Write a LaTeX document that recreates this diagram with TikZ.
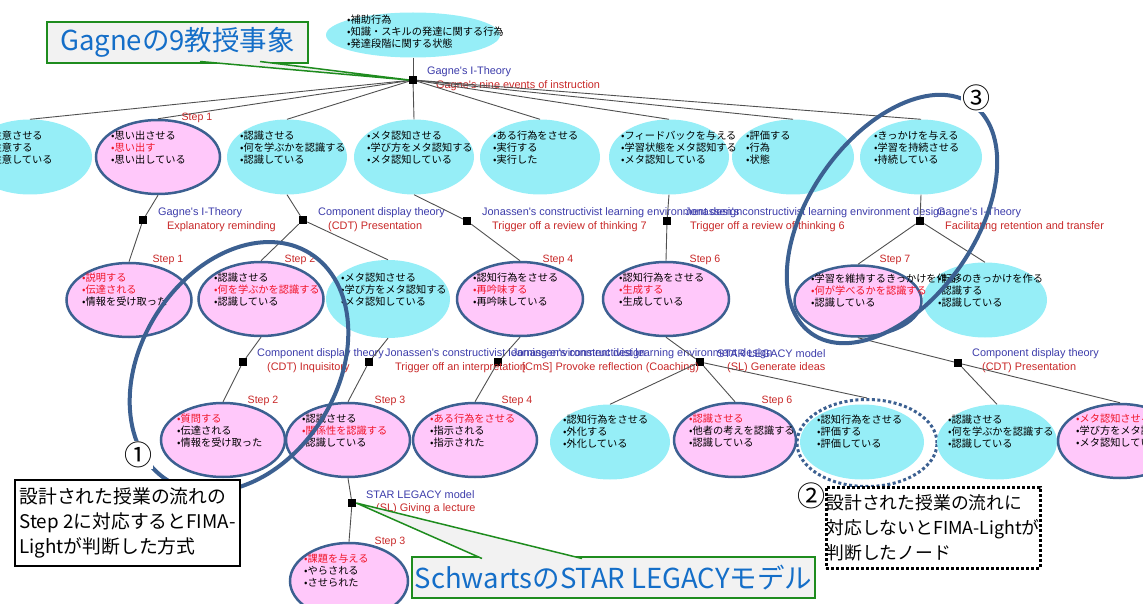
\documentclass[tikz,border=0pt]{standalone}
\usepackage{fontspec}
\setmainfont{Noto Sans CJK JP}
\newfontfamily\labelfont{Liberation Sans}
\usetikzlibrary{shapes.geometric}

\definecolor{cyanfill}{RGB}{150,238,247}
\definecolor{pinkfill}{RGB}{255,200,250}
\definecolor{ovalblue}{RGB}{60,96,145}
\definecolor{thyblue}{RGB}{60,60,170}
\definecolor{evtred}{RGB}{200,40,40}
\definecolor{hotred}{RGB}{240,20,40}
\definecolor{wiregray}{RGB}{80,80,80}
\definecolor{calloutgreen}{RGB}{30,140,30}
\definecolor{calloutblue}{RGB}{20,110,200}
\definecolor{calloutfill}{RGB}{242,242,242}

\newcommand\hot[1]{\textcolor{hotred}{#1}}

\tikzset{
  cyanell/.style={ellipse, fill=cyanfill, minimum width=124pt, minimum height=75pt, inner sep=0pt},
  pinkell/.style={ellipse, fill=pinkfill, draw=ovalblue, line width=2.5pt, minimum width=124pt, minimum height=74pt, inner sep=0pt},
  jn/.style={rectangle, fill=black, minimum size=8pt, inner sep=0pt},
  wire/.style={draw=wiregray, line width=0.9pt},
  body/.style={anchor=west, align=left, inner sep=0pt, font=\fontsize{10.2}{12}\selectfont},
  thy/.style={anchor=west, inner sep=0pt, text=thyblue, font=\labelfont\fontsize{10.9}{11}\selectfont},
  evt/.style={anchor=west, inner sep=0pt, text=evtred, font=\labelfont\fontsize{10.9}{11}\selectfont},
  stepl/.style={inner sep=0pt, text=evtred, font=\labelfont\fontsize{10.6}{11}\selectfont},
  bigoval/.style={draw=ovalblue, line width=4pt},
  circnum/.style={inner sep=1pt, font=\fontsize{28}{30}\selectfont},
  callout/.style={draw=calloutgreen, line width=2pt, fill=calloutfill, text=calloutblue, inner sep=0pt, font=\fontsize{27.5}{30}\selectfont},
  notebox/.style={draw=black, fill=white, line width=2.5pt, align=left, inner sep=0pt, font=\fontsize{18.8}{25}\selectfont}
}

\begin{document}
\begin{tikzpicture}[x=1pt,y=-1pt]
\useasboundingbox (0,0) rectangle (1143,604);
\clip (0,0) rectangle (1143,604);

% top
\node[cyanell, minimum width=174pt, minimum height=45pt] (root) at (413,35) {};
\node[body] (roott) at (347,32) {•補助行為\\•知識・スキルの発達に関する行為\\•発達段階に関する状態};
\node[jn] (j0) at (413,80) {};
\node[thy] (j0t) at (427,72) {Gagne's I-Theory};
\node[evt] (j0e) at (436,86) {Gagne's nine events of instruction};
\draw[wire] (root) -- (j0);

% nine events
\node[cyanell] (r1a) at (30,157) {};
\node[pinkell] (r1b) at (158,157) {};
\node[cyanell, minimum width=120pt] (r1c) at (287,157) {};
\node[cyanell, minimum width=120pt] (r1d) at (414,157) {};
\node[cyanell, minimum width=120pt] (r1e) at (540,157) {};
\node[cyanell, minimum width=120pt] (r1f) at (669,157) {};
\node[cyanell, minimum width=122pt] (r1g) at (793,157) {};
\node[cyanell, minimum width=122pt] (r1h) at (921,157) {};
\draw[wire] (j0) -- (r1a.north);
\draw[wire] (j0) -- (r1b.north);
\draw[wire] (j0) -- (r1c.north);
\draw[wire] (j0) -- (r1d.north);
\draw[wire] (j0) -- (r1e.north);
\draw[wire] (j0) -- (r1f.north);
\draw[wire] (j0) -- (r1g.north);
\draw[wire] (j0) -- (r1h.north);
\node[body] (r1at) at (-12,148) {•注意させる\\•注意する\\•注意している};
\node[body] (r1bt) at (111,148) {•思い出させる\\\hot{•思い出す}\\•思い出している};
\node[body] (r1ct) at (240,148) {•認識させる\\•何を学ぶかを認識する\\•認識している};
\node[body] (r1dt) at (367,148) {•メタ認知させる\\•学び方をメタ認知する\\•メタ認知している};
\node[body] (r1et) at (493,148) {•ある行為をさせる\\•実行する\\•実行した};
\node[body] (r1ft) at (621,148) {•フィードバックを与える\\•学習状態をメタ認知する\\•メタ認知している};
\node[body] (r1gt) at (746,148) {•評価する\\•行為\\•状態};
\node[body] (r1ht) at (874,148) {•きっかけを与える\\•学習を持続させる\\•持続している};
\node[stepl] (s1) at (197,118) {Step 1};

% second level
\node[jn] (ja) at (143,220) {};
\node[jn] (jb) at (303,220) {};
\node[jn] (jc) at (467,221) {};
\node[jn] (jd) at (667,221) {};
\node[jn] (je) at (920,221) {};
\node[thy] (jat) at (158,213) {Gagne's I-Theory};
\node[evt] (jae) at (167,227) {Explanatory reminding};
\node[thy] (jbt) at (318,213) {Component display theory};
\node[evt] (jbe) at (328,227) {(CDT) Presentation};
\node[thy] (jct) at (482,213) {Jonassen's constructivist learning environment design};
\node[evt] (jce) at (492,227) {Trigger off a review of thinking 7};
\node[thy] (jdt) at (685,213) {Jonassen's constructivist learning environment design};
\node[evt] (jde) at (690,227) {Trigger off a review of thinking 6};
\node[thy] (jet) at (937,213) {Gagne's I-Theory};
\node[evt] (jee) at (945,227) {Facilitating retention and transfer};
\draw[wire] (r1b.south) -- (ja);
\draw[wire] (r1c.south) -- (jb);
\draw[wire] (r1d.south) -- (jc);
\draw[wire] (r1f.south) -- (jd);
\draw[wire] (r1h.south) -- (je);

\node[pinkell, minimum width=125pt] (r2a) at (129,300) {};
\node[pinkell, minimum width=125pt] (r2b) at (261,299) {};
\node[cyanell, minimum height=78pt] (r2c) at (388,299) {};
\node[pinkell, minimum width=126pt] (r2d) at (520,299) {};
\node[pinkell, minimum width=126pt] (r2e) at (666,299) {};
\node[pinkell, minimum width=127pt, minimum height=71pt] (r2f) at (858,301) {};
\node[cyanell] (r2g) at (985,300) {};
\draw[wire] (ja) -- (r2a.north);
\draw[wire] (jb) -- (r2b.north);
\draw[wire] (jb) -- (r2c.north);
\draw[wire] (jc) -- (r2d.north);
\draw[wire] (jd) -- (r2e.north);
\draw[wire] (je) -- (r2f.north);
\draw[wire] (je) -- (r2g.north);
\node[body] (r2at) at (82,290) {\hot{•説明する}\\\hot{•伝達される}\\•情報を受け取った};
\node[body] (r2bt) at (214,290) {•認識させる\\\hot{•何を学ぶかを認識する}\\•認識している};
\node[body] (r2ct) at (341,290) {•メタ認知させる\\•学び方をメタ認知する\\•メタ認知している};
\node[body] (r2dt) at (473,290) {•認知行為をさせる\\\hot{•再吟味する}\\•再吟味している};
\node[body] (r2et) at (619,290) {•認知行為をさせる\\\hot{•生成する}\\•生成している};
\node[body] (r2ft) at (811,291) {•学習を維持するきっかけを作る\\\hot{•何が学べるかを認識する}\\•認識している};
\node[body] (r2gt) at (938,291) {•転移のきっかけを作る\\•認識する\\•認識している};
\node[stepl] (s2a) at (168,260) {Step 1};
\node[stepl] (s2b) at (300,260) {Step 2};
\node[stepl] (s2d) at (558,260) {Step 4};
\node[stepl] (s2e) at (705,260) {Step 6};
\node[stepl] (s2f) at (895,260) {Step 7};

% third level
\node[jn] (jf) at (243,362) {};
\node[jn] (jg) at (369,362) {};
\node[jn] (jh) at (498,362) {};
\node[jn] (ji) at (700,362) {};
\node[jn] (jj) at (958,363) {};
\node[thy] (jft) at (257,354) {Component display theory};
\node[evt] (jfe) at (267,368) {(CDT) Inquisitory};
\node[thy] (jgt) at (385,354) {Jonassen's constructivist learning environment design};
\node[evt] (jge) at (395,368) {Trigger off an interpretation};
\node[thy] (jht) at (512,354) {Jonassen's constructivist learning environment design};
\node[evt] (jhe) at (522,368) {[CmS] Provoke reflection (Coaching)};
\node[thy] (jit) at (717,354) {STAR LEGACY model};
\node[evt] (jie) at (727,368) {(SL) Generate ideas};
\node[thy] (jjt) at (972,354) {Component display theory};
\node[evt] (jje) at (982,368) {(CDT) Presentation};
\draw[wire] (r2b.south) -- (jf);
\draw[wire] (r2c.south) -- (jg);
\draw[wire] (r2d.south) -- (jh);
\draw[wire] (r2e.south) -- (ji);
\draw[wire] (r2f.south) -- (jj);

\node[pinkell] (r3a) at (223,440) {};
\node[pinkell] (r3b) at (348,440) {};
\node[pinkell] (r3c) at (475,440) {};
\node[cyanell, minimum width=120pt] (r3d) at (610,442) {};
\node[pinkell, minimum width=122pt] (r3e) at (735,440) {};
\node[cyanell, minimum width=124pt] (r3f) at (862,442) {};
\node[ellipse, draw=ovalblue, line width=3pt, dash pattern=on 3pt off 2.5pt, minimum width=140pt, minimum height=87pt] (r3fring) at (867,443) {};
\node[cyanell, minimum width=120pt] (r3g) at (997,442) {};
\node[pinkell] (r3h) at (1120,441) {};
\draw[wire] (jf) -- (r3a.north);
\draw[wire] (jg) -- (r3b.north);
\draw[wire] (jh) -- (r3c.north);
\draw[wire] (ji) -- (r3d.north);
\draw[wire] (ji) -- (r3e.north);
\draw[wire] (ji) -- (r3fring.north);
\draw[wire] (jj) -- (r3g.north);
\draw[wire] (jj) -- (r3h.north);
\node[body] (r3at) at (177,431) {\hot{•質問する}\\•伝達される\\•情報を受け取った};
\node[body] (r3bt) at (302,431) {•認識させる\\\hot{•関係性を認識する}\\•認識している};
\node[body] (r3ct) at (430,431) {\hot{•ある行為をさせる}\\•指示される\\•指示された};
\node[body] (r3dt) at (563,432) {•認知行為をさせる\\•外化する\\•外化している};
\node[body] (r3et) at (689,431) {\hot{•認識させる}\\•他者の考えを認識する\\•認識している};
\node[body] (r3ft) at (817,432) {•認知行為をさせる\\•評価する\\•評価している};
\node[body] (r3gt) at (948,432) {•認識させる\\•何を学ぶかを認識する\\•認識している};
\node[body] (r3ht) at (1076,431) {\hot{•メタ認知させる}\\•学び方をメタ認知する\\•メタ認知している};
\node[stepl] (s3a) at (263,401) {Step 2};
\node[stepl] (s3b) at (390,401) {Step 3};
\node[stepl] (s3c) at (517,401) {Step 4};
\node[stepl] (s3e) at (777,401) {Step 6};

% fourth level
\node[jn] (jk) at (352,503) {};
\node[thy] (jkt) at (366,495) {STAR LEGACY model};
\node[evt] (jke) at (376,509) {(SL) Giving a lecture};
\node[pinkell, minimum width=118pt, minimum height=76pt] (r4) at (349,581) {};
\draw[wire] (r3b.south) -- (jk);
\draw[wire] (jk) -- (r4.north);
\node[body] (r4t) at (304,571) {\hot{•課題を与える}\\•やらされる\\•させられた};
\node[stepl] (s4) at (390,542) {Step 3};

% marked groups
\draw[bigoval, rotate around={58:(239,367)}] (239,367) ellipse [x radius=134, y radius=98];
\draw[bigoval, rotate around={55:(892,219)}] (892,219) ellipse [x radius=140, y radius=83];
\node[circnum, fill=white] (num1) at (138,455) {①};
\node[circnum, fill=white] (num3) at (976,98) {③};
\node[circnum] (num2) at (811,496) {②};

% callouts
\node[callout, minimum width=261pt, minimum height=41pt] (gagnebox) at (177.5,42.5) {Gagneの9教授事象};
\coordinate (gp1) at (200,61.5);
\coordinate (gp2) at (260,61.5);
\fill[calloutfill] (gp1) -- (j0.west) -- (gp2) -- cycle;
\draw[calloutgreen, line width=1.5pt] (gp1) -- (j0.west) -- (gp2);

\node[callout, minimum width=403pt, minimum height=41pt] (schwbox) at (613.5,577.5) {SchwartsのSTAR LEGACYモデル};
\coordinate (sp1) at (482,558.5);
\coordinate (sp2) at (582,558.5);
\fill[calloutfill] (sp1) -- (jk.east) -- (sp2) -- cycle;
\draw[calloutgreen, line width=1.5pt] (sp1) -- (jk.east) -- (sp2);

\node[notebox, minimum width=225pt, minimum height=86pt] (note1) at (127.5,523) {設計された授業の流れの\\Step 2に対応するとFIMA-\\Lightが判断した方式};
\node[notebox, dash pattern=on 3pt off 2pt, line width=3pt, minimum width=214pt, minimum height=81pt, font=\fontsize{17.8}{25}\selectfont] (note2) at (933,527.5) {設計された授業の流れに\\対応しないとFIMA-Lightが\\判断したノード};

\end{tikzpicture}
\end{document}
